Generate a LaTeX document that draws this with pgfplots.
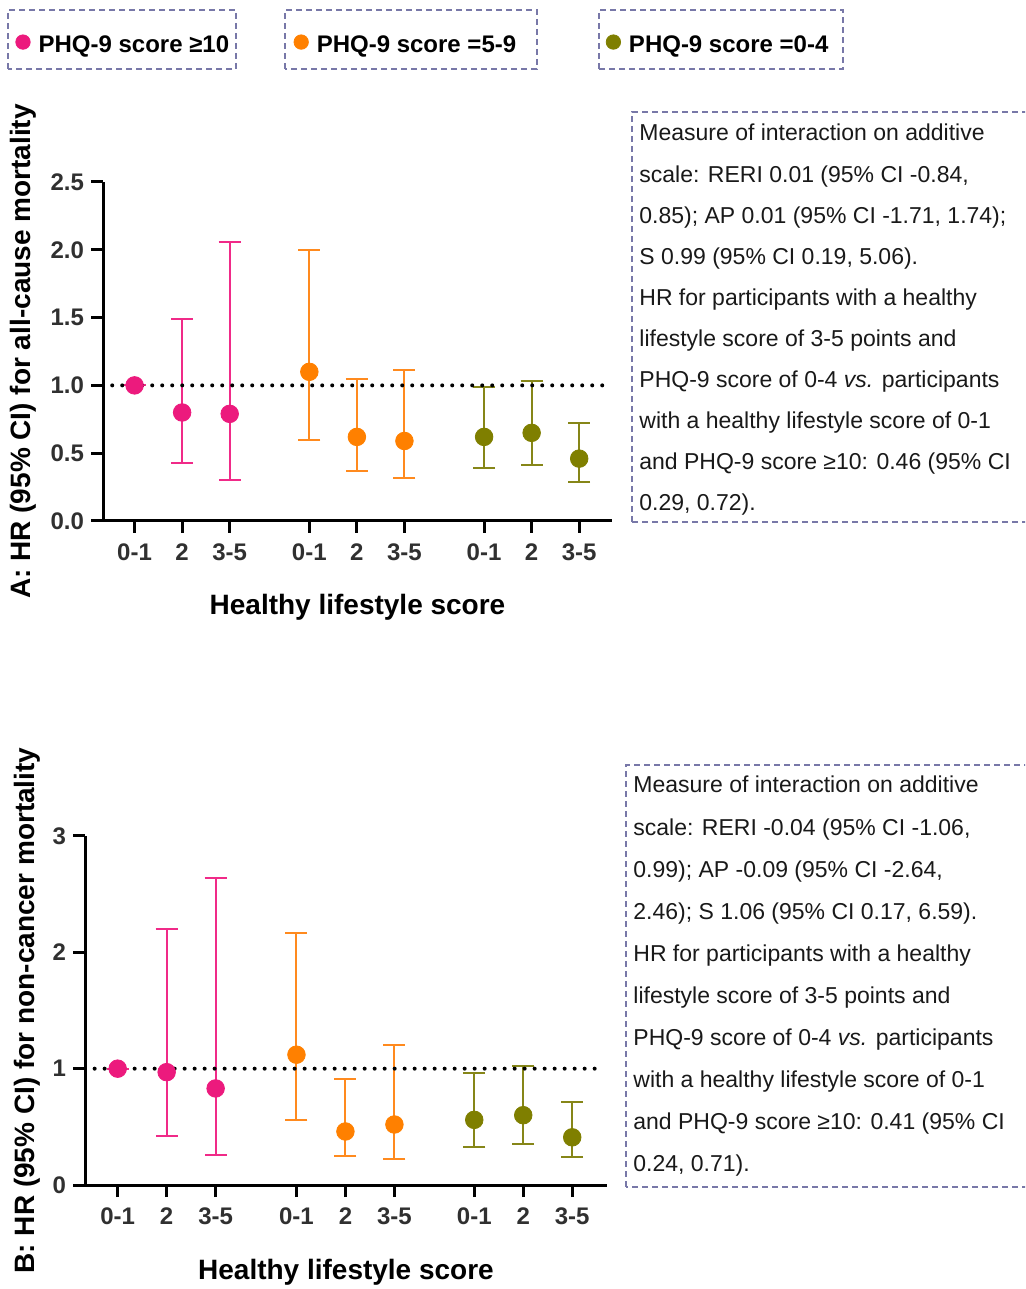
\documentclass[border=0pt]{standalone}
\usepackage{fontspec}
\setmainfont{Liberation Sans}
\usepackage{pgfplots}
\usepackage{pgfplotstable}
\pgfplotsset{compat=1.18}
\definecolor{pinkc}{HTML}{EC1A7D}
\definecolor{pinkbar}{HTML}{F02A88}
\definecolor{orangec}{HTML}{FF8000}
\definecolor{orangebar}{HTML}{FF8A1E}
\definecolor{olivec}{HTML}{7F7F00}
\definecolor{olivebar}{HTML}{868618}
\definecolor{boxc}{HTML}{7878A8}
\definecolor{tickc}{HTML}{303030}

\pgfplotstableread{
x y lo hi
0 1.00 1.00 1.00
1 0.80 0.43 1.49
2 0.79 0.30 2.06
}\Apink
\pgfplotstableread{
x y lo hi
3.675 1.10 0.60 2.00
4.675 0.62 0.37 1.05
5.675 0.59 0.32 1.11
}\Aorange
\pgfplotstableread{
x y lo hi
7.35 0.62 0.39 0.99
8.35 0.65 0.41 1.03
9.35 0.46 0.29 0.72
}\Aolive
\pgfplotstableread{
x y lo hi
0 1.00 1.00 1.00
1 0.97 0.42 2.20
2 0.83 0.26 2.64
}\Bpink
\pgfplotstableread{
x y lo hi
3.65 1.12 0.56 2.17
4.65 0.46 0.25 0.91
5.65 0.52 0.22 1.20
}\Borange
\pgfplotstableread{
x y lo hi
7.28 0.56 0.33 0.96
8.28 0.60 0.35 1.02
9.28 0.41 0.24 0.71
}\Bolive

\pgfplotsset{
  hrstyle/.style={
    scale only axis, clip=false,
    axis x line=bottom, axis y line=left,
    axis line style={-, line width=1.5pt, black},
    tick align=outside, major tick length=6pt,
    tick style={line width=1.5pt, black},
    xticklabels={0-1,2,3-5,0-1,2,3-5,0-1,2,3-5},
    ticklabel style={font=\fontsize{12}{14}\selectfont\bfseries, text=tickc},
    /pgf/number format/assume math mode=true,
    xticklabel style={yshift=-2pt},
    every axis x label/.style={at={(axis description cs:0.5,0)}, anchor=center, font=\fontsize{14}{16}\selectfont\bfseries},
    every axis y label/.style={at={(axis description cs:0,0.5)}, anchor=center, font=\fontsize{14}{16}\selectfont\bfseries},
  },
  ciplot/.style 2 args={only marks, mark=*, mark size=4.4pt, color=#1,
    mark options={fill=#1, draw=#1},
    error bars/y dir=both, error bars/y explicit,
    error bars/error mark=|,
    error bars/error mark options={mark size=5.5pt, line width=1pt, color=#2},
    error bars/error bar style={line width=1pt, color=#2}},
  refline/.style={black, line width=2pt, line cap=round, dash pattern=on 0pt off 5pt},
}

\begin{document}
\begin{tikzpicture}
\useasboundingbox (0,0) rectangle (512.5pt,644.5pt);
\clip (0,0) rectangle (512.5pt,644.5pt);

% ---------- Panel A ----------
\begin{axis}[hrstyle,
  at={(51.5pt,384pt)}, anchor=south west,
  width=254.5pt, height=169.5pt,
  xmin=-0.664, xmax=10.04, ymin=0, ymax=2.5,
  xtick={0,1,2,3.675,4.675,5.675,7.35,8.35,9.35},
  ytick={0,0.5,1,1.5,2,2.5},
  yticklabel style={/pgf/number format/fixed, /pgf/number format/fixed zerofill, /pgf/number format/precision=1},
  xlabel={Healthy lifestyle score},
  ylabel={A: HR (95\% CI) for all-cause mortality},
  xlabel style={yshift=-43pt},
  ylabel style={xshift=-40pt, rotate=90},
  legend columns=3,
  legend cell align=left,
  legend image code/.code={\fill[#1] (3.5pt,1.8pt) circle (3.6pt);},
  legend style={draw=none, fill=none, inner sep=0pt,
    at={(axis description cs:-0.1729,1.4041)}, anchor=west,
    font=\fontsize{12}{14}\selectfont\bfseries,
    nodes={inner sep=0pt},
    /tikz/every odd column/.append style={column sep=4pt}},
]
\addlegendimage{pinkc}
\addlegendentry{\makebox[127.5pt][l]{PHQ-9 score ≥10}}
\addlegendimage{orangec}
\addlegendentry{\makebox[144.5pt][l]{PHQ-9 score =5-9}}
\addlegendimage{olivec}
\addlegendentry{PHQ-9 score =0-4}
\addplot[forget plot, ciplot={pinkc}{pinkbar}] table[x=x, y=y, y error plus expr={\thisrow{hi}-\thisrow{y}}, y error minus expr={\thisrow{y}-\thisrow{lo}}] {\Apink};
\addplot[forget plot, ciplot={orangec}{orangebar}] table[x=x, y=y, y error plus expr={\thisrow{hi}-\thisrow{y}}, y error minus expr={\thisrow{y}-\thisrow{lo}}] {\Aorange};
\addplot[forget plot, ciplot={olivec}{olivebar}] table[x=x, y=y, y error plus expr={\thisrow{hi}-\thisrow{y}}, y error minus expr={\thisrow{y}-\thisrow{lo}}] {\Aolive};
\addplot[forget plot, refline] coordinates {(-0.47,1) (9.84,1)};
\end{axis}

% ---------- Panel B ----------
\begin{axis}[hrstyle,
  at={(42.5pt,52pt)}, anchor=south west,
  width=261pt, height=174.5pt,
  xmin=-0.667, xmax=9.99, ymin=0, ymax=3,
  xtick={0,1,2,3.65,4.65,5.65,7.28,8.28,9.28},
  ytick={0,1,2,3},
  xlabel={Healthy lifestyle score},
  ylabel={B: HR (95\% CI) for non-cancer mortality},
  xlabel style={yshift=-43.5pt},
  ylabel style={xshift=-29pt, rotate=90},
]
\addplot[ciplot={pinkc}{pinkbar}] table[x=x, y=y, y error plus expr={\thisrow{hi}-\thisrow{y}}, y error minus expr={\thisrow{y}-\thisrow{lo}}] {\Bpink};
\addplot[ciplot={orangec}{orangebar}] table[x=x, y=y, y error plus expr={\thisrow{hi}-\thisrow{y}}, y error minus expr={\thisrow{y}-\thisrow{lo}}] {\Borange};
\addplot[ciplot={olivec}{olivebar}] table[x=x, y=y, y error plus expr={\thisrow{hi}-\thisrow{y}}, y error minus expr={\thisrow{y}-\thisrow{lo}}] {\Bolive};
\addplot[refline] coordinates {(-0.47,1) (9.8,1)};
\end{axis}

% ---------- legend frames ----------
\begin{scope}[boxc, line width=0.75pt, dash pattern=on 3pt off 2pt]
\draw (4pt,610pt) rectangle (118pt,639.5pt);
\draw (142.5pt,610pt) rectangle (268.5pt,639.5pt);
\draw (299.5pt,610pt) rectangle (421.5pt,639.5pt);
% text boxes
\draw (316pt,383.5pt) rectangle (520pt,588.5pt);
\draw (313pt,51pt) rectangle (520pt,262pt);
\end{scope}

% ---------- text boxes ----------
\begin{scope}[font=\fontsize{11.5}{13}\selectfont, text=black!90]
\foreach \t [count=\i from 0] in {
  {Measure of interaction on additive},
  {scale: RERI 0.01 (95\% CI -0.84,},
  {0.85); AP 0.01 (95\% CI -1.71, 1.74);},
  {S 0.99 (95\% CI 0.19, 5.06).},
  {HR for participants with a healthy},
  {lifestyle score of 3-5 points and},
  {PHQ-9 score of 0-4 \textit{vs.} participants},
  {with a healthy lifestyle score of 0-1},
  {and PHQ-9 score ≥10: 0.46 (95\% CI},
  {0.29, 0.72).}}
  \node[anchor=base west, inner sep=0pt] at (319.5pt, {574pt-\i*20.55pt}) {\t};
\foreach \t [count=\i from 0] in {
  {Measure of interaction on additive},
  {scale: RERI -0.04 (95\% CI -1.06,},
  {0.99); AP -0.09 (95\% CI -2.64,},
  {2.46); S 1.06 (95\% CI 0.17, 6.59).},
  {HR for participants with a healthy},
  {lifestyle score of 3-5 points and},
  {PHQ-9 score of 0-4 \textit{vs.} participants},
  {with a healthy lifestyle score of 0-1},
  {and PHQ-9 score ≥10: 0.41 (95\% CI},
  {0.24, 0.71).}}
  \node[anchor=base west, inner sep=0pt] at (316.5pt, {248pt-\i*21.05pt}) {\t};
\end{scope}
\end{tikzpicture}
\end{document}
